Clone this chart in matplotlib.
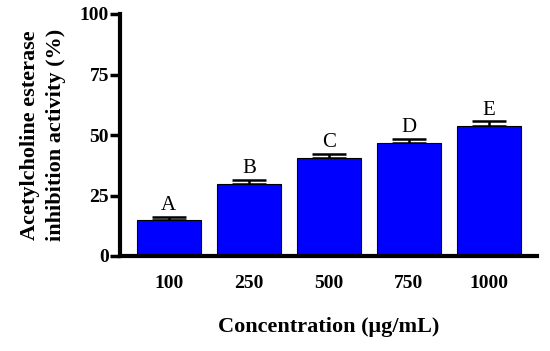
import matplotlib.pyplot as plt
import numpy as np

conc = ["100", "250", "500", "750", "1000"]
inhib = [15.0, 29.7, 40.5, 46.9, 53.8]
err = [1.0, 1.7, 1.5, 1.6, 1.8]
letters = ["A", "B", "C", "D", "E"]

plt.rcParams['font.family'] = ['Liberation Serif', 'DejaVu Serif']

fig = plt.figure(figsize=(5.5, 3.51), dpi=100)
ax = fig.add_axes([120/550, 95/351, 417/550, 242/351])

x = np.arange(len(conc))
yerr = [np.zeros(len(err)), err]
# error bars drawn under the bars so only the upper half shows
ax.errorbar(x, inhib, yerr=yerr, fmt='none', ecolor='black', elinewidth=1.8,
            capsize=12, capthick=1.8, zorder=1)
ax.bar(x, inhib, width=0.8, color='#0000ff', edgecolor='black', linewidth=0.8, zorder=2)

for xi, v, e, l in zip(x, inhib, err, letters):
    ax.text(xi, v + e + 0.8, l, ha='center', va='bottom', fontsize=15)

ax.set_xlim(-0.61, 4.6)
ax.set_ylim(0, 100)
ax.set_yticks([0, 25, 50, 75, 100])
ax.set_xticks(x)
ax.set_xticklabels(conc, fontsize=14, fontweight='bold')
ax.tick_params(axis='x', length=0, pad=14)
ax.tick_params(axis='y', length=7, width=2.5, labelsize=14, pad=1)
for t in ax.get_yticklabels():
    t.set_fontweight('bold')

for s in ['top', 'right']:
    ax.spines[s].set_visible(False)
for s in ['left', 'bottom']:
    ax.spines[s].set_linewidth(3)

ax.set_ylabel('Acetylcholine esterase\ninhibition activity (%)', fontsize=16,
              fontweight='bold', labelpad=10, linespacing=1.35)
ax.set_xlabel('Concentration (\u03bcg/mL)', fontsize=16, fontweight='bold', labelpad=18)

fig.savefig('out.png', dpi=100)
